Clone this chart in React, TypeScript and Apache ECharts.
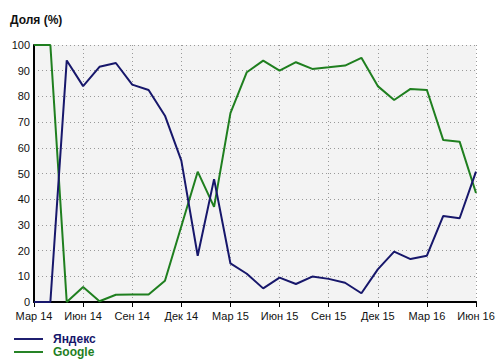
import React, { useEffect, useRef } from "react";
import * as echarts from "echarts";

const categories = [
  "Мар 14", "Апр 14", "Май 14", "Июн 14", "Июл 14", "Авг 14", "Сен 14", "Окт 14", "Ноя 14", "Дек 14",
  "Янв 15", "Фев 15", "Мар 15", "Апр 15", "Май 15", "Июн 15", "Июл 15", "Авг 15", "Сен 15", "Окт 15",
  "Ноя 15", "Дек 15", "Янв 16", "Фев 16", "Мар 16", "Апр 16", "Май 16", "Июн 16",
];

const yandex = [
  0, 0, 94, 84, 91.5, 93, 84.6, 82.5, 72.5, 55,
  18, 47.8, 15, 11, 5.3, 9.5, 7, 9.9, 9, 7.5,
  3.4, 12.7, 19.6, 16.7, 18, 33.5, 32.6, 50.7,
];

const google = [
  100, 100, 0, 5.8, 0.3, 2.8, 2.9, 2.9, 8.3, 29.5,
  50.7, 37, 73.5, 89.4, 93.9, 90, 93.3, 90.7, 91.3, 92,
  95, 84, 78.6, 82.9, 82.5, 63, 62.4, 42.4,
];

const yTicks = { min: 0, max: 100, interval: 10 };

const YANDEX_COLOR = "#17176b";
const GOOGLE_COLOR = "#1f7f1f";
const FONT = "'Liberation Sans', Arial, sans-serif";

export default function App() {
  const ref = useRef<HTMLDivElement>(null);
  useEffect(() => {
    if (!ref.current) return;
    const chart = echarts.init(ref.current, undefined, { renderer: "svg" });
    chart.setOption({
      animation: false,
      backgroundColor: "#ffffff",
      title: {
        text: "Доля (%)",
        left: 5,
        top: 9,
        textStyle: { fontFamily: FONT, fontSize: 12, fontWeight: "bold", color: "#111" },
      },
      grid: {
        left: 34,
        right: 24,
        top: 45,
        bottom: 61,
        show: true,
        backgroundColor: "#f3f3f3",
        borderWidth: 0,
      },
      legend: {
        orient: "vertical",
        left: 14,
        top: 333,
        padding: 0,
        itemWidth: 29,
        itemHeight: 12,
        itemGap: 1,
        icon: "path://M0,5 L30,5 L30,7 L0,7 Z",
        data: [
          { name: "Яндекс", textStyle: { color: YANDEX_COLOR } },
          { name: "Google", textStyle: { color: GOOGLE_COLOR } },
        ],
        textStyle: { fontFamily: FONT, fontSize: 12, fontWeight: "bold", padding: [0, 0, 0, 5] },
      },
      xAxis: {
        type: "category",
        data: categories,
        boundaryGap: false,
        axisLine: { show: true, lineStyle: { color: "#000", width: 2 } },
        axisTick: { show: true, interval: 2, length: 5, lineStyle: { color: "#000", width: 1 } },
        axisLabel: { interval: 2, color: "#111", fontFamily: FONT, fontSize: 11, margin: 8 },
        splitLine: { show: true, interval: 2, lineStyle: { color: "#999", type: [1, 3], width: 1 } },
      },
      yAxis: {
        type: "value",
        min: yTicks.min,
        max: yTicks.max,
        interval: yTicks.interval,
        axisLine: { show: true, lineStyle: { color: "#000", width: 2 } },
        axisTick: { show: false },
        axisLabel: { color: "#111", fontFamily: FONT, fontSize: 11, margin: 4 },
        splitLine: { show: true, lineStyle: { color: "#999", type: [1, 3], width: 1 } },
      },
      series: [
        {
          name: "Яндекс",
          type: "line",
          data: yandex,
          symbol: "none",
          clip: false,
          lineStyle: { color: YANDEX_COLOR, width: 2 },
          itemStyle: { color: YANDEX_COLOR },
          z: 10,
        },
        {
          name: "Google",
          type: "line",
          data: google,
          symbol: "none",
          clip: false,
          lineStyle: { color: GOOGLE_COLOR, width: 2 },
          itemStyle: { color: GOOGLE_COLOR },
          z: 9,
        },
      ],
    });
    return () => chart.dispose();
  }, []);
  return <div ref={ref} style={{ width: 500, height: 363, position: "absolute", left: 0, top: 0 }} />;
}
